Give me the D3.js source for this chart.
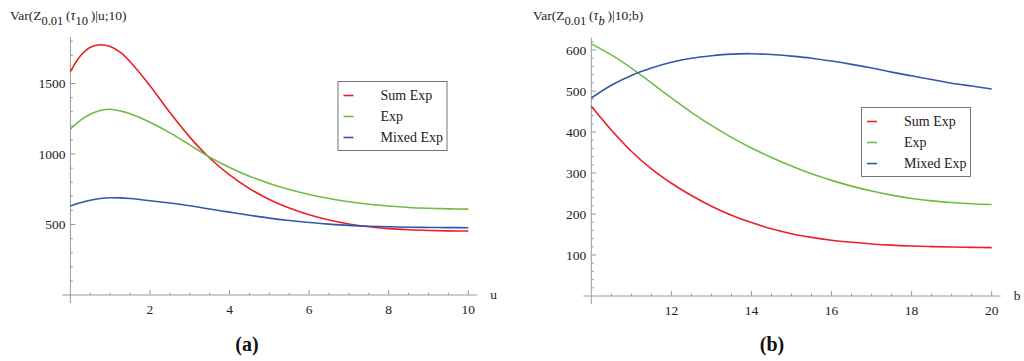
<!DOCTYPE html>
<html>
<head>
<meta charset="utf-8">
<script src="https://cdnjs.cloudflare.com/ajax/libs/d3/7.8.5/d3.min.js"></script>
<style>
  body { margin: 0; background: #fff; }
  svg { display: block; font-family: 'Liberation Serif', 'Times New Roman', serif; }
</style>
</head>
<body>
<svg id="chart" width="1024" height="361"></svg>
<script>
'use strict';

// panel (a): Var(Z_0.01(tau_10) | u; 10)
var uValues = [0, 0.25, 0.5, 0.75, 1, 1.25, 1.5, 2, 2.5, 3, 3.5, 4, 4.5, 5, 5.5, 6, 6.5, 7, 7.5, 8, 8.5, 9, 9.5, 10];
var sumExpA = [1585, 1695, 1757, 1775, 1762, 1722, 1655, 1485, 1295, 1120, 972, 852, 755, 677, 617, 569, 532, 504, 484, 471, 463, 458, 455, 454];
var expA = [1177, 1238, 1282, 1309, 1318, 1306, 1285, 1225, 1150, 1065, 978, 905, 843, 791, 748, 713, 685, 662, 644, 631, 621, 615, 611, 609];
var mixedA = [631, 655, 672, 684, 690, 689, 684, 669, 652, 633, 610, 588, 566, 545, 528, 514, 503, 494, 488, 484, 481, 479, 478, 477];

// panel (b): Var(Z_0.01(tau_b) | 10; b)
var bValues = [10, 10.5, 11, 11.5, 12, 12.5, 13, 13.5, 14, 14.5, 15, 15.5, 16, 16.5, 17, 17.5, 18, 18.5, 19, 19.5, 20];
var sumExpB = [463, 405, 353, 310, 275, 245, 219, 197, 179, 164, 152, 143, 136, 131, 127, 124, 122, 120.5, 119.5, 118.5, 118];
var expB = [615, 588, 556, 520, 483, 448, 416, 387, 361, 338, 317, 298, 282, 268, 256, 246, 238, 232, 228, 225, 223];
var mixedB = [483, 514, 538, 556, 570, 580, 586, 590, 591, 589, 585, 580, 573, 565, 556, 546, 537, 528, 519, 512, 505];

var seriesNames = ['Sum Exp', 'Exp', 'Mixed Exp'];
var seriesColors = ['#ea1f27', '#6dbd45', '#3456a8'];

var xTicksA = [2, 4, 6, 8, 10];
var yTicksA = [500, 1000, 1500];
var xTicksB = [12, 14, 16, 18, 20];
var yTicksB = [100, 200, 300, 400, 500, 600];

var axisColor = '#9a9a9a';
var svg = d3.select('#chart');

function drawPanel(cfg) {
  var g = svg.append('g');
  var x = d3.scaleLinear().domain(cfg.xDomain).range(cfg.xRange);
  var y = d3.scaleLinear().domain(cfg.yDomain).range(cfg.yRange);
  var x0 = x(cfg.xDomain[0]);
  var y0 = y(0);

  // minor + major ticks
  d3.range(cfg.xDomain[0] + cfg.xMinor, cfg.xDomain[1] + 1e-9, cfg.xMinor).forEach(function(v) {
    var major = cfg.xTicks.some(function(t) { return Math.abs(t - v) < 1e-9; });
    g.append('line')
      .attr('x1', x(v)).attr('x2', x(v))
      .attr('y1', y0).attr('y2', y0 - (major ? 5 : 2.5))
      .attr('stroke', axisColor).attr('stroke-width', 1);
  });
  d3.range(cfg.yMinor, cfg.yDomain[1] + 1e-9, cfg.yMinor).forEach(function(v) {
    var major = cfg.yTicks.indexOf(v) >= 0;
    g.append('line')
      .attr('x1', x0).attr('x2', x0 + (major ? 5 : 2.5))
      .attr('y1', y(v)).attr('y2', y(v))
      .attr('stroke', axisColor).attr('stroke-width', 1);
  });

  // axes lines
  g.append('line')
    .attr('x1', x0 - 8).attr('x2', cfg.xRange[1] + 9)
    .attr('y1', y0).attr('y2', y0)
    .attr('stroke', axisColor).attr('stroke-width', 1);
  g.append('line')
    .attr('x1', x0).attr('x2', x0)
    .attr('y1', cfg.yRange[1]).attr('y2', y0 + 8)
    .attr('stroke', axisColor).attr('stroke-width', 1);

  // tick labels
  g.selectAll('text.xt').data(cfg.xTicks).enter().append('text')
    .attr('x', function(d) { return x(d); })
    .attr('y', y0 + 18.5)
    .attr('text-anchor', 'middle')
    .style('font-size', '13.5px')
    .attr('fill', '#222')
    .text(function(d) { return d; });
  g.selectAll('text.yt').data(cfg.yTicks).enter().append('text')
    .attr('x', x0 - 5)
    .attr('y', function(d) { return y(d); })
    .attr('dy', '0.34em')
    .attr('text-anchor', 'end')
    .style('font-size', '13.5px')
    .attr('fill', '#222')
    .text(function(d) { return d; });

  g.append('text')
    .attr('x', cfg.xRange[1] + 22)
    .attr('y', y0 + 4)
    .style('font-size', '13.5px')
    .attr('fill', '#222')
    .text(cfg.xLabel);

  // curves
  var line = d3.line()
    .x(function(d) { return x(d[0]); })
    .y(function(d) { return y(d[1]); })
    .curve(d3.curveCatmullRom.alpha(0.5));
  cfg.series.forEach(function(vals, i) {
    g.append('path')
      .datum(d3.zip(cfg.xs, vals))
      .attr('d', line)
      .attr('fill', 'none')
      .attr('stroke', seriesColors[i])
      .attr('stroke-width', 1.6);
  });

  // legend
  var lg = g.append('g').attr('transform', 'translate(' + cfg.legend[0] + ',' + cfg.legend[1] + ')');
  lg.append('rect')
    .attr('x', 0.5).attr('y', 0.5)
    .attr('width', 109).attr('height', 69)
    .attr('fill', '#fff')
    .attr('stroke', '#777').attr('stroke-width', 1);
  seriesNames.forEach(function(name, i) {
    var yy = 14.5 + i * 21;
    lg.append('line')
      .attr('x1', 6).attr('x2', 16)
      .attr('y1', yy).attr('y2', yy)
      .attr('stroke', seriesColors[i]).attr('stroke-width', 1.6);
    lg.append('text')
      .attr('x', 43).attr('y', yy).attr('dy', '0.33em')
      .style('font-size', '14px')
      .attr('fill', '#222')
      .text(name);
  });

  // y label with subscripts
  var t = g.append('text')
    .attr('x', cfg.titleX).attr('y', 20)
    .style('font-size', '13.5px')
    .attr('fill', '#222');
  t.append('tspan').text('Var(Z');
  t.append('tspan').attr('dy', 5).style('font-size', '12.5px').text('0.01');
  t.append('tspan').attr('dy', -5).text('\u2009(');
  t.append('tspan').style('font-style', 'italic').style('font-size', '14px').text('\u03C4');
  if (cfg.tauSub === 'b') {
    t.append('tspan').attr('dy', 5).style('font-size', '12.5px').style('font-style', 'italic').text('b');
  } else {
    t.append('tspan').attr('dy', 5).style('font-size', '12.5px').text(cfg.tauSub);
  }
  t.append('tspan').attr('dy', -5).text('\u2009)' + cfg.titleTail);

  // caption
  g.append('text')
    .attr('x', cfg.captionX).attr('y', 351)
    .attr('text-anchor', 'middle')
    .style('font-size', '20px')
    .style('font-weight', 'bold')
    .attr('fill', '#111')
    .text(cfg.caption);
}

drawPanel({
  xs: uValues,
  series: [sumExpA, expA, mixedA],
  xDomain: [0, 10], xRange: [70.4, 468.3],
  yDomain: [0, 1830], yRange: [295, 37],
  xTicks: xTicksA, yTicks: yTicksA,
  xMinor: 0.5, yMinor: 100,
  xLabel: 'u',
  legend: [337.5, 81],
  titleX: 10, tauSub: '10', titleTail: '|u;10)',
  captionX: 247, caption: '(a)'
});

drawPanel({
  xs: bValues,
  series: [sumExpB, expB, mixedB],
  xDomain: [10, 20], xRange: [591.3, 991.7],
  yDomain: [0, 630], yRange: [296, 37.7],
  xTicks: xTicksB, yTicks: yTicksB,
  xMinor: 0.5, yMinor: 20,
  xLabel: 'b',
  legend: [861, 107],
  titleX: 533, tauSub: 'b', titleTail: '|10;b)',
  captionX: 772, caption: '(b)'
});
</script>
</body>
</html>
